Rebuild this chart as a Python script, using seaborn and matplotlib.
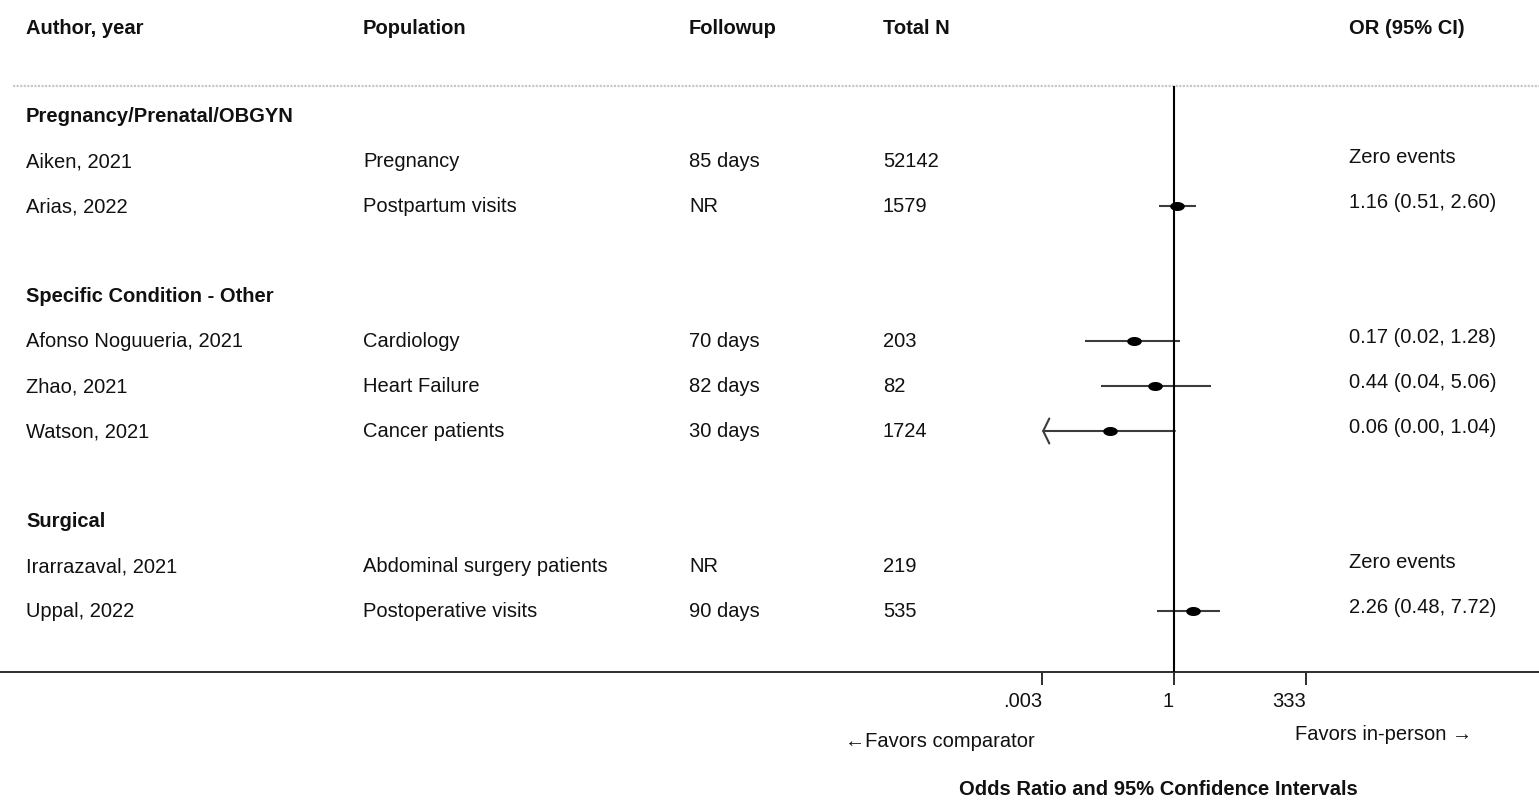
import numpy as np
import pandas as pd
import matplotlib
matplotlib.use("Agg")
import matplotlib.pyplot as plt
import matplotlib.transforms as mtransforms
from matplotlib.path import Path
from matplotlib.ticker import NullLocator
import seaborn as sns

# ---------------- data ----------------
groups = ["Pregnancy/Prenatal/OBGYN", "Specific Condition - Other", "Surgical"]
study_group = [0, 0, 1, 1, 1, 2, 2]
authors = ["Aiken, 2021", "Arias, 2022", "Afonso Noguueria, 2021", "Zhao, 2021",
           "Watson, 2021", "Irarrazaval, 2021", "Uppal, 2022"]
populations = ["Pregnancy", "Postpartum visits", "Cardiology", "Heart Failure",
               "Cancer patients", "Abdominal surgery patients", "Postoperative visits"]
followup = ["85 days", "NR", "70 days", "82 days", "30 days", "NR", "90 days"]
total_n = [52142, 1579, 203, 82, 1724, 219, 535]
odds_ratio = [np.nan, 1.16, 0.17, 0.44, 0.06, np.nan, 2.26]
ci_low = [np.nan, 0.51, 0.02, 0.04, 0.00, np.nan, 0.48]
ci_high = [np.nan, 2.60, 1.28, 5.06, 1.04, np.nan, 7.72]
headers = ["Author, year", "Population", "Followup", "Total N", "OR (95% CI)"]
tick_values = [0.003, 1, 333]
tick_labels = [".003", "1", "333"]
x_title = "Odds Ratio and 95% Confidence Intervals"
left_note = "\u2190Favors comparator"
right_note = "Favors in-person \u2192"

# ---------------- layout ----------------
W, H = 1539, 803
AX_TOP, AX_BOT = 87, 673          # pixel rows of the plotting band
ROW0, ROW_STEP = 117, 45          # first row centre and row pitch (px)
NULL_X, PX_PER_DEC = 1174, 52.3   # where OR = 1 sits, and decade width (px)
col_x = [26, 363, 689, 883, 1349]
FS = 14.5

sns.set_theme(style="white")
plt.rcParams["font.family"] = ["Liberation Sans", "DejaVu Sans"]
plt.rcParams["text.color"] = "#111111"

fig = plt.figure(figsize=(W / 100, H / 100), dpi=100)
ax = fig.add_axes([0, 1 - AX_BOT / H, 1, (AX_BOT - AX_TOP) / H])

# assign row slots: group heading, its studies, then a blank spacer row
slot = 0
group_rows, study_rows = [], [None] * len(authors)
for g in range(len(groups)):
    group_rows.append(slot)
    slot += 1
    for i, sg in enumerate(study_group):
        if sg == g:
            study_rows[i] = slot
            slot += 1
    slot += 1

df = pd.DataFrame({
    "row": study_rows, "author": authors, "population": populations,
    "followup": followup, "n": total_n,
    "or": odds_ratio, "lo": ci_low, "hi": ci_high,
})

ax.set_xscale("log")
xmin = 10 ** (-NULL_X / PX_PER_DEC)
xmax = 10 ** ((W - NULL_X) / PX_PER_DEC)
ax.set_xlim(xmin, xmax)
y_top = (AX_TOP - ROW0) / ROW_STEP
y_bot = (AX_BOT - ROW0) / ROW_STEP
ax.set_ylim(y_bot, y_top)

axis_min = tick_values[0]
est = df.dropna(subset=["or"])

# confidence intervals (clipped at the left tick with an open arrow)
ci_color = "#3c3c3c"
for _, r in est.iterrows():
    if r["lo"] < axis_min:
        ax.annotate("", xy=(axis_min, r["row"]), xytext=(r["hi"], r["row"]),
                    arrowprops=dict(arrowstyle="->,head_length=0.22,head_width=0.45",
                                    color=ci_color, lw=1.5, shrinkA=0, shrinkB=0,
                                    mutation_scale=20), zorder=2)
    else:
        ax.hlines(r["row"], r["lo"], r["hi"], color=ci_color, lw=1.5, zorder=2)

# point estimates as small horizontal ellipses
t = np.linspace(0, 2 * np.pi, 41)
ellipse = Path(np.column_stack([np.cos(t), 0.62 * np.sin(t)]))
sns.scatterplot(data=est, x="or", y="row", marker=ellipse, s=110,
                color="black", edgecolor="black", linewidth=0, ax=ax, zorder=4)

# null line and top separator
ax.axvline(1, color="black", lw=1.5, zorder=3)
ax.axhline(y_top, xmin=13 / W, xmax=1, color="#c6cac6", lw=1.6,
           ls=(0, (1, 0.6)), clip_on=False, zorder=1)

# axes styling
for side in ["top", "left", "right"]:
    ax.spines[side].set_visible(False)
ax.spines["bottom"].set_color("#2e2e2e")
ax.spines["bottom"].set_linewidth(1.4)
ax.set_xticks(tick_values)
ax.set_xticklabels(tick_labels)
ax.xaxis.set_minor_locator(NullLocator())
ax.tick_params(axis="x", direction="out", length=9.5, width=1.4, color="#2e2e2e",
               pad=4, labelsize=FS, labelcolor="#111111", bottom=True)
plt.setp(ax.get_xticklabels(), ha="right")
ax.set_yticks([])
ax.set_xlabel("")
ax.set_ylabel("")
ax.patch.set_alpha(0)

# table text
trans = mtransforms.blended_transform_factory(fig.transFigure, ax.transData)
trans_or = mtransforms.offset_copy(trans, fig=fig, y=4, units="dots")

for h, x in zip(headers, col_x):
    fig.text(x / W, 1 - 28 / H, h, fontsize=FS, fontweight="bold",
             ha="left", va="center")

for g, row in zip(groups, group_rows):
    ax.text(col_x[0] / W, row, g, transform=trans, fontsize=FS,
            fontweight="bold", ha="left", va="center")

for _, r in df.iterrows():
    y = r["row"]
    ax.text(col_x[0] / W, y, r["author"], transform=trans, fontsize=FS, va="center")
    ax.text(col_x[1] / W, y, r["population"], transform=trans, fontsize=FS, va="center")
    ax.text(col_x[2] / W, y, r["followup"], transform=trans, fontsize=FS, va="center")
    ax.text(col_x[3] / W, y, str(r["n"]), transform=trans, fontsize=FS, va="center")
    if np.isnan(r["or"]):
        label = "Zero events"
    else:
        label = f"{r['or']:.2f} ({r['lo']:.2f}, {r['hi']:.2f})"
    ax.text(col_x[4] / W, y, label, transform=trans_or, fontsize=FS, va="center")

# axis annotations
fig.text(845 / W, 1 - 742 / H, left_note, fontsize=FS, ha="left", va="center")
fig.text(1295 / W, 1 - 735 / H, right_note, fontsize=FS, ha="left", va="center")
fig.text(1158 / W, 1 - 790 / H, x_title, fontsize=FS, fontweight="bold",
         ha="center", va="center")

fig.savefig("out.png", dpi=100, facecolor="white")
